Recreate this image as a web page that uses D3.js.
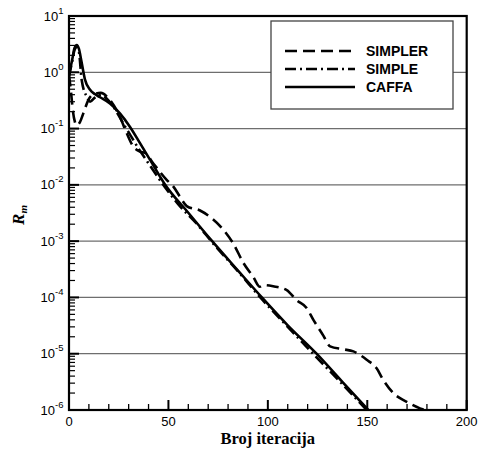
<!DOCTYPE html>
<html><head><meta charset="utf-8">
<script src="https://cdn.jsdelivr.net/npm/d3@7"></script>
<style>body{margin:0;background:#fff}svg{display:block}</style>
</head><body>
<script>
// ---- data ----
const simplerX = [0, 1, 2, 3, 3.9, 5.5, 7.2, 9.7, 12, 16, 20, 25.6, 29, 32.3, 35.7, 38.2, 42.4, 49.1, 52.5, 56, 59.2, 65.9, 70.9, 77.6, 82.6, 87.7, 92.7, 96, 98, 102.7, 109.5, 114.5, 119.5, 122.9, 127.9, 131.3, 137.9, 143, 149.7, 154.7, 158.1, 163.1, 169.8, 176.5, 179];
const simplerY = [0.9, 0.45, 0.2, 0.13, 0.115, 0.13, 0.186, 0.32, 0.4, 0.43, 0.34, 0.162, 0.083, 0.048, 0.039, 0.037, 0.024, 0.0123, 0.0093, 0.006, 0.0042, 0.0035, 0.0027, 0.0016, 9.1e-4, 4.1e-4, 2.3e-4, 1.55e-4, 1.66e-4, 1.58e-4, 1.35e-4, 8.9e-5, 6.5e-5, 4.0e-5, 2.1e-5, 1.35e-5, 1.2e-5, 1.1e-5, 7.8e-6, 5.5e-6, 3.4e-6, 2.0e-6, 1.4e-6, 1.07e-6, 1.0e-6];

const simpleX = [0, 1.5, 2.8, 3.9, 5, 6.4, 8.9, 10.6, 13, 16.4, 19, 22.3, 27.3, 30.7, 35, 40, 47, 55, 65, 72, 85, 97, 110, 124, 137, 149.7];
const simpleY = [0.85, 1.5, 2.5, 2.8, 2.3, 0.72, 0.37, 0.30, 0.355, 0.40, 0.34, 0.245, 0.123, 0.078, 0.044, 0.024, 0.0105, 0.0045, 0.0019, 9.5e-4, 2.9e-4, 9.3e-5, 3.0e-5, 9.0e-6, 3.0e-6, 1.0e-6];

const caffaX = [0, 1.5, 2.8, 3.9, 5, 6.2, 8, 10.6, 13, 15.6, 20.6, 25.6, 30.7, 35.7, 41, 48, 60, 72, 85, 97, 110, 124.5, 137, 150.5];
const caffaY = [0.9, 1.6, 2.7, 3.05, 2.6, 1.6, 0.75, 0.49, 0.41, 0.36, 0.28, 0.186, 0.107, 0.055, 0.027, 0.0105, 0.0032, 0.001, 3.0e-4, 1.0e-4, 3.2e-5, 1.0e-5, 3.3e-6, 1.0e-6];

const seriesNames = ["SIMPLER", "SIMPLE", "CAFFA"];
const xTickValues = [0, 50, 100, 150, 200];
const yExponents = [1, 0, -1, -2, -3, -4, -5, -6];
const xLabel = "Broj iteracija";

// ---- layout ----
const W = 481, H = 449;
const L = 69, R = 466.7, T = 16, B = 410;
const svg = d3.select("body").append("svg").attr("width", W).attr("height", H);

const x = d3.scaleLinear().domain([0, 200]).range([L, R]);
const y = d3.scaleLog().domain([1e-6, 10]).range([B, T]);

const sans = "'Liberation Sans', Arial, sans-serif";
const serif = "'Liberation Serif', 'Times New Roman', serif";

// grid lines
svg.append("g").selectAll("line").data(yExponents.slice(1, -1)).join("line")
  .attr("x1", L).attr("x2", R)
  .attr("y1", d => y(Math.pow(10, d))).attr("y2", d => y(Math.pow(10, d)))
  .attr("stroke", "#6e6e6e").attr("stroke-width", 1.3);

// clip
svg.append("clipPath").attr("id", "clip").append("rect")
  .attr("x", L).attr("y", T).attr("width", R - L).attr("height", B - T);

const styles = [
  {x: simplerX, y: simplerY, dash: "12,6"},
  {x: simpleX, y: simpleY, dash: "11,4,2,4"},
  {x: caffaX, y: caffaY, dash: null}
];

const line = d3.line().x(d => x(d[0])).y(d => y(d[1])).curve(d3.curveMonotoneX);

const plot = svg.append("g").attr("clip-path", "url(#clip)");

// legend box
const lg = svg.append("g");
lg.append("rect").attr("x", 271).attr("y", 21).attr("width", 182).attr("height", 88)
  .attr("fill", "#fff").attr("stroke", "#444").attr("stroke-width", 1.3);

styles.forEach(s => {
  const pts = s.x.map((v, i) => [v, s.y[i]]);
  plot.append("path").datum(pts).attr("d", line)
    .attr("fill", "none").attr("stroke", "#000").attr("stroke-width", 2.6)
    .attr("stroke-linejoin", "round")
    .attr("stroke-dasharray", s.dash);
});

const legY = [51, 69, 87];
seriesNames.forEach((n, i) => {
  lg.append("line").attr("x1", 285).attr("x2", 355).attr("y1", legY[i]).attr("y2", legY[i])
    .attr("stroke", "#000").attr("stroke-width", 2.6)
    .attr("stroke-dasharray", styles[i].dash);
  lg.append("text").attr("x", 366).attr("y", legY[i] + 5)
    .attr("font-family", sans).attr("font-weight", "bold").attr("font-size", 14)
    .text(n);
});

// x axis ticks (inside)
const xMinor = d3.range(0, 201, 10).filter(v => v % 50 !== 0);
svg.append("g").selectAll("line").data(xMinor).join("line")
  .attr("x1", d => x(d)).attr("x2", d => x(d)).attr("y1", B).attr("y2", B - 6)
  .attr("stroke", "#000").attr("stroke-width", 1.3);
svg.append("g").selectAll("line").data(xTickValues).join("line")
  .attr("x1", d => x(d)).attr("x2", d => x(d)).attr("y1", B).attr("y2", B - 10)
  .attr("stroke", "#000").attr("stroke-width", 2);
svg.append("g").selectAll("text").data(xTickValues).join("text")
  .attr("x", d => x(d)).attr("y", 425.5).attr("text-anchor", "middle")
  .attr("font-family", sans).attr("font-size", 13).text(d => d);

// y axis ticks (inside)
const yMinor = [];
for (let e = -6; e < 1; e++) for (let k = 2; k <= 9; k++) yMinor.push(k * Math.pow(10, e));
svg.append("g").selectAll("line").data(yMinor).join("line")
  .attr("x1", L).attr("x2", L + 6).attr("y1", d => y(d)).attr("y2", d => y(d))
  .attr("stroke", "#000").attr("stroke-width", 1.2);
svg.append("g").selectAll("line").data(yExponents).join("line")
  .attr("x1", L).attr("x2", L + 10)
  .attr("y1", d => y(Math.pow(10, d))).attr("y2", d => y(Math.pow(10, d)))
  .attr("stroke", "#000").attr("stroke-width", 2);
const yl = svg.append("g").selectAll("text").data(yExponents).join("text")
  .attr("x", 63.5).attr("y", d => y(Math.pow(10, d)) + 4.6).attr("text-anchor", "end")
  .attr("font-family", sans).attr("font-size", 13);
yl.append("tspan").text("10");
yl.append("tspan").attr("font-size", 9.5).attr("dy", -7).text(d => d);

// frame
svg.append("rect").attr("x", L).attr("y", T).attr("width", R - L).attr("height", B - T)
  .attr("fill", "none").attr("stroke", "#000").attr("stroke-width", 2.2);

// axis titles
svg.append("text").attr("x", (L + R) / 2).attr("y", 443.5).attr("text-anchor", "middle")
  .attr("font-family", serif).attr("font-weight", "bold").attr("font-size", 16.5).text(xLabel);
const yt = svg.append("text").attr("transform", "translate(23.5,215) rotate(-90)")
  .attr("text-anchor", "middle").attr("font-family", serif)
  .attr("font-weight", "bold").attr("font-style", "italic").attr("font-size", 17);
yt.append("tspan").text("R");
yt.append("tspan").attr("font-size", 11).attr("dy", 3).text("m");
</script>
</body></html>
